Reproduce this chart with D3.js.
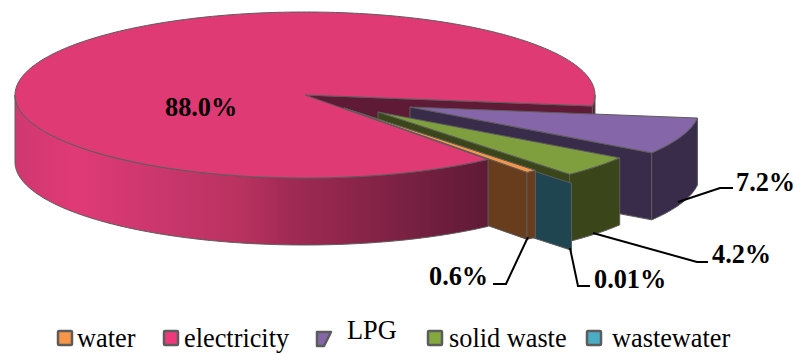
<!DOCTYPE html>
<html>
<head>
<meta charset="utf-8">
<script src="https://cdnjs.cloudflare.com/ajax/libs/d3/7.8.5/d3.min.js"></script>
<style>
  html, body { margin: 0; padding: 0; background: #fff; }
  text { font-family: "Liberation Serif", serif; fill: #000; }
</style>
</head>
<body>
<svg id="chart" width="796" height="353"></svg>
<script>
// Shares of the footprint by source, in legend order
const categories = ["water", "electricity", "LPG", "solid waste", "wastewater"];
const shares = [0.6, 88.0, 7.2, 4.2, 0.01];
const shareLabels = ["0.6%", "88.0%", "7.2%", "4.2%", "0.01%"];
const topColors = ["#f79646", "#e03a75", "#8566a8", "#7f9f3e", "#4bacc6"];
const swatchColors = ["#f79646", "#f0397c", "#8566a8", "#85a83e", "#4bacc6"];
const wallColors = ["#673d1e", "#5f1a35", "#392c4b", "#3a4519", "#1f4650"];

// Tilted-pie geometry
const centre = { x: 305, y: 95 };
const radius = { x: 290, y: 83 };
const depth = 67;
const firstSliceStart = 138.7 * Math.PI / 180;
// How far each slice is pulled out of the pie, in pixels
const pullOut = [[39, 13], [0, 0], [105, 12], [73, 17], [75, 26]];

const svg = d3.select("#chart");
const edge = "#5c5c5c";

const slices = d3.pie().value(d => d).sort(null)
  .startAngle(firstSliceStart).endAngle(firstSliceStart + 2 * Math.PI)(shares);

// Rim point of slice i at pie angle a (0 at twelve o'clock, clockwise)
function rim(i, a, down = 0) {
  return [
    centre.x + pullOut[i][0] + radius.x * Math.sin(a),
    centre.y + pullOut[i][1] - radius.y * Math.cos(a) + down
  ];
}
function apex(i, down = 0) {
  return [centre.x + pullOut[i][0], centre.y + pullOut[i][1] + down];
}
function arcPoints(i, a0, a1, down = 0) {
  const n = Math.max(2, Math.ceil(Math.abs(a1 - a0) * 60));
  return d3.range(n + 1).map(k => rim(i, a0 + (a1 - a0) * k / n, down));
}
const outline = d3.line();
function poly(points, fill, sw = 1) {
  return svg.append("path")
    .attr("d", outline(points) + "Z")
    .attr("fill", fill)
    .attr("stroke", edge)
    .attr("stroke-width", sw)
    .attr("stroke-linejoin", "round");
}
function sideFace(i, a, fill) {
  poly([apex(i), rim(i, a), rim(i, a, depth), apex(i, depth)], fill);
}
function outerWall(i, a0, a1, fill) {
  poly([...arcPoints(i, a0, a1), ...arcPoints(i, a1, a0, depth)], fill);
}
function topFace(i, fill) {
  poly([apex(i), ...arcPoints(i, slices[i].startAngle, slices[i].endAngle)], fill);
}

// Horizontal shading along the front wall of the large slice
const defs = svg.append("defs");
const grad = defs.append("linearGradient")
  .attr("id", "frontWall")
  .attr("gradientUnits", "userSpaceOnUse")
  .attr("x1", centre.x - radius.x).attr("x2", 487)
  .attr("y1", 0).attr("y2", 0);
[[0, "#cf3870"], [0.13, "#e03a75"], [0.29, "#cc376d"], [0.48, "#b8325f"], [0.58, "#a12a54"], [1, "#5f1a35"]]
  .forEach(([o, c]) => grad.append("stop").attr("offset", o).attr("stop-color", c));

const [iWater, iElec, iLpg, iSolid, iWaste] = [0, 1, 2, 3, 4];
const elec = slices[iElec];

// Back to front: inner wall seen through the notch, then the pulled-out slices
sideFace(iElec, elec.endAngle, wallColors[iElec]);
outerWall(iElec, Math.PI / 2, elec.endAngle - 2 * Math.PI, wallColors[iElec]);

sideFace(iLpg, slices[iLpg].endAngle, wallColors[iLpg]);
outerWall(iLpg, slices[iLpg].startAngle, slices[iLpg].endAngle, wallColors[iLpg]);
topFace(iLpg, topColors[iLpg]);

sideFace(iSolid, slices[iSolid].endAngle, wallColors[iSolid]);
outerWall(iSolid, slices[iSolid].startAngle, slices[iSolid].endAngle, wallColors[iSolid]);
topFace(iSolid, topColors[iSolid]);

sideFace(iWaste, slices[iWaste].startAngle, wallColors[iWaste]);

sideFace(iWater, slices[iWater].startAngle, wallColors[iWater]);
sideFace(iWater, slices[iWater].endAngle, wallColors[iWater]);
outerWall(iWater, slices[iWater].startAngle, slices[iWater].endAngle, wallColors[iWater]);
topFace(iWater, topColors[iWater]);

// Large slice in front: wall first, then the top surface
outerWall(iElec, elec.startAngle, Math.PI * 1.5, "url(#frontWall)");
topFace(iElec, topColors[iElec]);

// Leader lines from the wedges to their percentages
const leaders = [
  [[528, 237], [506, 284], [493, 284]],
  null,
  [[678, 202], [720, 188], [733, 188]],
  [[593, 233], [697, 262], [708, 262]],
  [[570, 248], [578, 286], [590, 286]]
];
leaders.forEach(pts => {
  if (!pts) return;
  svg.append("path").attr("d", outline(pts))
    .attr("fill", "none").attr("stroke", "#000").attr("stroke-width", 2);
});

// Percentage labels
const labelAnchors = [[429, 285], [165, 116], [736, 191], [712, 263], [594, 288]];
svg.selectAll("text.share").data(shareLabels).join("text")
  .attr("class", "share")
  .attr("x", (d, i) => labelAnchors[i][0])
  .attr("y", (d, i) => labelAnchors[i][1])
  .attr("font-size", 26.3)
  .attr("font-weight", "bold")
  .text(d => d);

// Legend
const legendSwatchX = [58, 164, 317, 428, 587];
const legendTextX = [77, 184, 347, 449, 612];
const legendBaseline = [347, 347, 339, 347, 347];
categories.forEach((name, i) => {
  const x = legendSwatchX[i];
  const fill = swatchColors[i];
  if (name === "LPG") {
    poly([[x, 332], [x + 14, 332], [x + 7, 346], [x, 346]], fill, 2.5);
  } else {
    svg.append("rect")
      .attr("x", x).attr("y", 331).attr("width", 14).attr("height", 14).attr("rx", 1)
      .attr("fill", fill).attr("stroke", edge).attr("stroke-width", 2.5);
  }
  svg.append("text")
    .attr("x", legendTextX[i]).attr("y", legendBaseline[i])
    .attr("font-size", 26.3)
    .text(name);
});
</script>
</body>
</html>
